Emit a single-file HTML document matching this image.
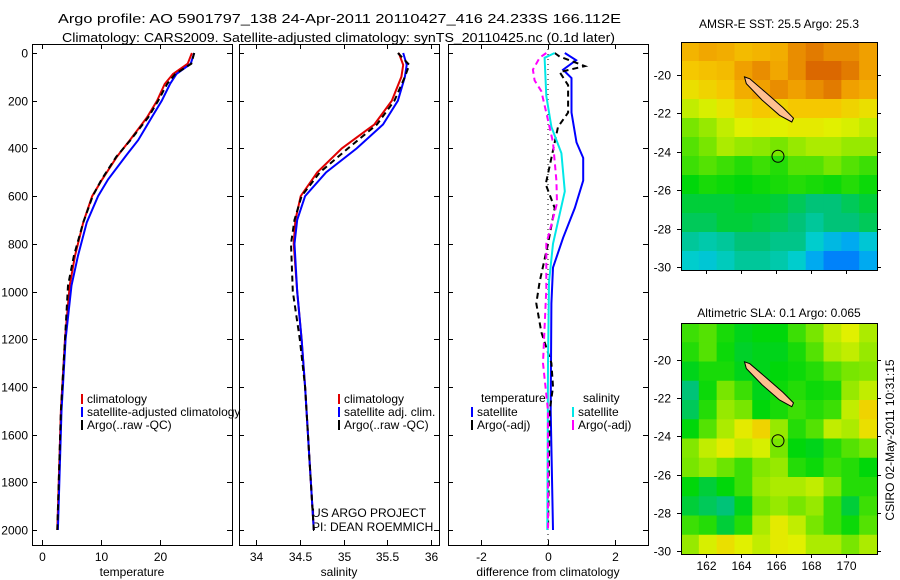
<!DOCTYPE html>
<html><head><meta charset="utf-8"><style>
html,body{margin:0;padding:0;background:#fff}
svg{display:block;font-family:"Liberation Sans",sans-serif}
</style></head><body>
<svg id="fig" width="900" height="580" viewBox="0 0 900 580" xmlns="http://www.w3.org/2000/svg">
<text x="58" y="23" font-size="13" textLength="563" lengthAdjust="spacingAndGlyphs">Argo profile: AO 5901797_138 24-Apr-2011 20110427_416 24.233S 166.112E</text>
<text x="62" y="42" font-size="13" textLength="553" lengthAdjust="spacingAndGlyphs">Climatology: CARS2009. Satellite-adjusted climatology: synTS_20110425.nc (0.1d later)</text>
<text x="779" y="28" font-size="12" text-anchor="middle">AMSR-E SST: 25.5 Argo: 25.3</text>
<text x="779" y="317" font-size="12" text-anchor="middle">Altimetric SLA: 0.1 Argo: 0.065</text>
<text transform="translate(894,440) rotate(-90)" font-size="12" text-anchor="middle">CSIRO 02-May-2011 10:31:15</text>
<text x="312" y="517" font-size="12">US ARGO PROJECT</text>
<text x="312" y="531" font-size="12">PI: DEAN ROEMMICH</text>
<g id="plots"></g>
</svg>
<script>
// ---- profile data ----
const depthTicks = [0,200,400,600,800,1000,1200,1400,1600,1800,2000];
const tempTicks = [0,10,20];
const salTicks = [34,34.5,35,35.5,36];
const diffTicks = [-2,0,2];
const tempDepth = [0,45,88,130,200,270,365,435,530,600,710,850,975,1200,1500,2000];
const tempClim = [25.4,24.7,22.2,20.8,19.5,17.8,14.9,12.7,10.2,8.5,7.0,5.6,4.7,3.9,3.2,2.6];
const tempSat = [25.8,25.2,22.8,21.7,20.3,18.6,16.3,14.1,11.2,9.5,7.6,6.1,5.0,4.0,3.3,2.7];
const tempArgo = [25.8,25.3,22.6,21.2,19.7,18.0,15.0,12.6,10.1,8.6,7.0,5.4,4.4,3.9,3.2,2.6];
const salDepth = [0,50,100,200,300,400,500,600,700,800,1000,1200,1400,1700,2000];
const salClim = [35.63,35.68,35.66,35.55,35.35,34.98,34.70,34.51,34.45,34.43,34.47,34.52,34.56,34.61,34.66];
const salSat = [35.68,35.72,35.70,35.62,35.45,35.15,34.80,34.56,34.47,34.44,34.47,34.52,34.56,34.61,34.66];
const salArgo = [35.62,35.75,35.70,35.58,35.38,35.05,34.73,34.52,34.44,34.40,34.42,34.50,34.56,34.61,34.66];
const dTSatDepth = [0,30,70,105,250,375,440,535,650,775,900,1050,1500,2000];
const dTSat = [0.5,0.84,0.45,0.7,0.7,0.85,1.05,1.05,0.8,0.45,0.15,0.1,0.08,0.15];
const dSSatDepth = [0,20,180,310,420,580,675,800,960,1300,2000];
const dSSat = [0.2,-0.1,-0.05,0.1,0.4,0.5,0.35,0.15,0.03,0,-0.02];
const dTArgoDepth = [0,15,55,80,135,250,310,440,550,650,800,960,1050,1170,1300,1400,1500,2000];
const dTArgo = [0.2,0.35,1.1,0.35,0.6,0.6,0.3,0.1,-0.07,0.2,0,-0.25,-0.35,-0.2,0.1,0.15,0.05,0];
const dSArgoDepth = [0,20,70,115,160,250,375,535,630,800,990,1300,1500,2000];
const dSArgo = [-0.05,-0.25,-0.45,-0.4,-0.2,-0.05,0.15,0.25,0.27,-0.05,-0.05,-0.15,0,0];
// ---- map data (0..1 colour scale, rows north->south) ----
const sstGrid = [
[.75,.77,.76,.74,.75,.76,.80,.82,.80,.80,.78],
[.72,.73,.74,.78,.80,.77,.80,.84,.84,.82,.78],
[.68,.70,.72,.76,.78,.80,.78,.80,.82,.78,.76],
[.62,.64,.67,.70,.72,.70,.72,.72,.72,.70,.68],
[.55,.58,.62,.65,.66,.65,.66,.66,.65,.64,.62],
[.52,.55,.60,.58,.57,.55,.58,.60,.60,.58,.58],
[.50,.52,.50,.48,.50,.48,.52,.52,.55,.52,.50],
[.45,.47,.46,.45,.46,.47,.48,.47,.46,.48,.46],
[.42,.42,.42,.43,.43,.42,.40,.38,.38,.40,.42],
[.40,.40,.42,.42,.41,.40,.38,.36,.38,.38,.40],
[.36,.35,.36,.38,.38,.37,.37,.33,.30,.28,.32],
[.33,.32,.34,.36,.36,.35,.33,.28,.24,.24,.28]];
const slaGrid = [
[.50,.52,.47,.44,.45,.45,.50,.55,.62,.65,.60],
[.48,.52,.46,.43,.44,.44,.47,.52,.60,.62,.58],
[.44,.47,.47,.44,.44,.45,.46,.48,.52,.55,.56],
[.38,.46,.55,.50,.44,.46,.48,.46,.47,.58,.62],
[.40,.48,.58,.55,.45,.47,.50,.48,.50,.62,.70],
[.45,.52,.60,.66,.70,.58,.48,.52,.62,.60,.68],
[.56,.62,.66,.62,.64,.55,.45,.44,.48,.52,.55],
[.55,.58,.54,.50,.56,.58,.48,.46,.50,.48,.45],
[.45,.42,.45,.50,.58,.60,.60,.62,.56,.48,.48],
[.42,.40,.38,.44,.55,.58,.55,.58,.50,.42,.50],
[.50,.48,.42,.48,.60,.66,.62,.55,.50,.46,.52],
[.58,.64,.68,.65,.62,.66,.65,.60,.60,.55,.60]];
const lonTicks = [162,164,166,168,170];
const latTicks = [-20,-22,-24,-26,-28,-30];
const islandLon = [164.2,164.5,165.4,166.4,167.0,166.9,166.2,165.2,164.3];
const islandLat = [-20.1,-20.2,-20.9,-21.7,-22.25,-22.45,-22.1,-21.3,-20.45];
const argoLon = 166.112, argoLat = -24.233;

const NS='http://www.w3.org/2000/svg';
const root=document.getElementById('plots');
function mk(tag,attrs,parent){const e=document.createElementNS(NS,tag);for(const k in attrs)e.setAttribute(k,attrs[k]);(parent||root).appendChild(e);return e;}
const top0=44, bot0=545;
const yD=d=>53+d*0.2385;

function panel(name,x0,x1,xf,xticks,label,showY){
  const g=mk('g',{});
  
  
  const cid='clip-'+name;
  const cp=mk('clipPath',{id:cid},g);mk('rect',{x:x0,y:top0,width:x1-x0,height:bot0-top0},cp);
  const fr=mk('rect',{x:x0+.5,y:top0+.5,width:x1-x0,height:bot0-top0,fill:'none',stroke:'#000','stroke-width':1},g);
  
  
  depthTicks.forEach(d=>{const y=Math.round(yD(d))+.5;
    mk('line',{x1:x0,x2:x0+5,y1:y,y2:y,stroke:'#000'},g);mk('line',{x1:x1-5,x2:x1,y1:y,y2:y,stroke:'#000'},g);
    if(showY){const t=mk('text',{x:x0-4,y:y+4,'font-size':12,'text-anchor':'end'},g);t.textContent=d;
      
      }
  });
  xticks.forEach(v=>{const x=Math.round(xf(v))+.5;
    mk('line',{x1:x,x2:x,y1:top0,y2:top0+5,stroke:'#000'},g);mk('line',{x1:x,x2:x,y1:bot0-5,y2:bot0,stroke:'#000'},g);
    const t=mk('text',{x:x,y:561,'font-size':12,'text-anchor':'middle'},g);t.textContent=v;
    
    
  });
  const lt=mk('text',{x:(x0+x1)/2,y:576,'font-size':12,'text-anchor':'middle'},g);lt.textContent=label;
  
  
  const pg=mk('g',{'clip-path':'url(#'+cid+')'},g);
  return pg;
}
function series(g,name,depths,vals,xf,color,dash){
  const pts=depths.map((d,i)=>xf(vals[i]).toFixed(1)+','+yD(d).toFixed(1)).join(' ');
  const p=mk('polyline',{points:pts,fill:'none',stroke:color,'stroke-width':2,'stroke-dasharray':dash||'none'},g);
  
  
}
function legend(x,y,color,text,name){
  const l=mk('line',{x1:x,x2:x,y1:y-9,y2:y+1,stroke:color,'stroke-width':2});
  
  
  const t=mk('text',{x:x+5,y:y,'font-size':12});t.textContent=text;
  
  
}
// Panel 1
const xT=t=>42+t*5.9;
const g1=panel('temperature-panel',32,232,xT,tempTicks,'temperature',true);
series(g1,'temp-climatology-line',tempDepth,tempClim,xT,'#e00000');
series(g1,'temp-satellite-line',tempDepth,tempSat,xT,'#0000ff');
series(g1,'temp-argo-line',tempDepth,tempArgo,xT,'#000','6,4');
legend(82,403,'#e00000','climatology','legend-climatology');
legend(82,416,'#0000ff','satellite-adjusted climatology','legend-satellite');
legend(82,429,'#000','Argo(..raw -QC)','legend-argo');
// Panel 2
const xS=s=>256+(s-34)*87.6;
const g2=panel('salinity-panel',239,439,xS,salTicks,'salinity',false);
series(g2,'sal-climatology-line',salDepth,salClim,xS,'#e00000');
series(g2,'sal-satellite-line',salDepth,salSat,xS,'#0000ff');
series(g2,'sal-argo-line',salDepth,salArgo,xS,'#000','6,4');
legend(339,403,'#e00000','climatology','legend-sal-climatology');
legend(339,416,'#0000ff','satellite adj. clim.','legend-sal-satellite');
legend(339,429,'#000','Argo(..raw -QC)','legend-sal-argo');
// Panel 3
const xF=f=>548+f*33.5;
const g3=panel('difference-panel',448,648,xF,diffTicks,'difference from climatology',false);
const zl=mk('line',{x1:xF(0),x2:xF(0),y1:top0,y2:bot0,stroke:'#000','stroke-dasharray':'1,4'},g3);


series(g3,'diff-temp-satellite-line',dTSatDepth,dTSat,xF,'#0000ff');
series(g3,'diff-temp-argo-line',dTArgoDepth,dTArgo,xF,'#000','6,4');
series(g3,'diff-sal-satellite-line',dSSatDepth,dSSat,xF,'#00e8e8');
series(g3,'diff-sal-argo-line',dSArgoDepth,dSArgo,xF,'#ff00ff','6,4');
const lt1=mk('text',{x:481,y:402,'font-size':12});lt1.textContent='temperature';


const lt2=mk('text',{x:583,y:402,'font-size':12});lt2.textContent='salinity';


legend(472,416,'#0000ff','satellite','legend-diff-temp-sat');
legend(472,429,'#000','Argo(-adj)','legend-diff-temp-argo');
legend(573,416,'#00e8e8','satellite','legend-diff-sal-sat');
legend(573,429,'#ff00ff','Argo(-adj)','legend-diff-sal-argo');

// colormap (piecewise, matches reference palette)
const cmStops=[[0.15,[0,60,230]],[0.22,[0,110,255]],[0.28,[0,170,240]],[0.33,[0,205,205]],[0.38,[0,195,120]],[0.45,[0,215,10]],[0.55,[120,230,0]],[0.65,[225,240,0]],[0.72,[245,200,0]],[0.78,[240,160,0]],[0.85,[215,95,0]],[0.95,[180,10,0]]];
function cmap(v){
  if(v<=cmStops[0][0])return 'rgb('+cmStops[0][1].join(',')+')';
  for(let i=1;i<cmStops.length;i++){if(v<=cmStops[i][0]){const a=cmStops[i-1],b=cmStops[i],t=(v-a[0])/(b[0]-a[0]);
    return 'rgb('+a[1].map((c,k)=>Math.round(c+(b[1][k]-c)*t)).join(',')+')';}}
  return 'rgb('+cmStops[cmStops.length-1][1].join(',')+')';
}

function map(name,grid,x0,y0,w,h,latTop,showLon){
  const g=mk('g',{});
  
  
  const lonL=160.57,lonR=171.77,latB=-30.16;
  const px=lon=>x0+(lon-lonL)/(lonR-lonL)*w;
  const py=lat=>y0+(latTop-lat)/(latTop-latB)*h;
  const rows=grid.length,cols=grid[0].length,cw=w/cols,ch=h/rows;
  grid.forEach((row,r)=>row.forEach((v,c)=>{
    const cell=mk('rect',{x:(x0+c*cw).toFixed(2),y:(y0+r*ch).toFixed(2),width:(cw+.6).toFixed(2),height:(ch+.6).toFixed(2),fill:cmap(v)},g);
    
    
  }));
  const isl=mk('polygon',{points:islandLon.map((lo,i)=>px(lo).toFixed(1)+','+py(islandLat[i]).toFixed(1)).join(' '),fill:'#ffc090',stroke:'#000','stroke-width':1},g);
  
  
  const ci=mk('circle',{cx:px(argoLon),cy:py(argoLat),r:6,fill:'none',stroke:'#000','stroke-width':1},g);
  
  
  const fr=mk('rect',{x:x0+.5,y:y0+.5,width:w,height:h,fill:'none',stroke:'#000'},g);
  
  
  latTicks.forEach(lat=>{const y=Math.round(py(lat))+.5;
    mk('line',{x1:x0-4,x2:x0,y1:y,y2:y,stroke:'#000'},g);mk('line',{x1:x0+w,x2:x0+w+4,y1:y,y2:y,stroke:'#000'},g);
    const t=mk('text',{x:x0-10,y:y+4,'font-size':12,'text-anchor':'end'},g);t.textContent=lat;
    
    
  });
  lonTicks.forEach(lon=>{const x=Math.round(px(lon))+.5;
    mk('line',{x1:x,x2:x,y1:y0+h,y2:y0+h+4,stroke:'#000'},g);
    if(showLon){const t=mk('text',{x:x,y:y0+h+16,'font-size':12,'text-anchor':'middle'},g);t.textContent=lon;
      
      }
  });
}
map('sst-map',sstGrid,681,42,196,228,-18.28,false);
map('sla-map',slaGrid,681,323,196,231,-18.07,true);
</script>
</body></html>
